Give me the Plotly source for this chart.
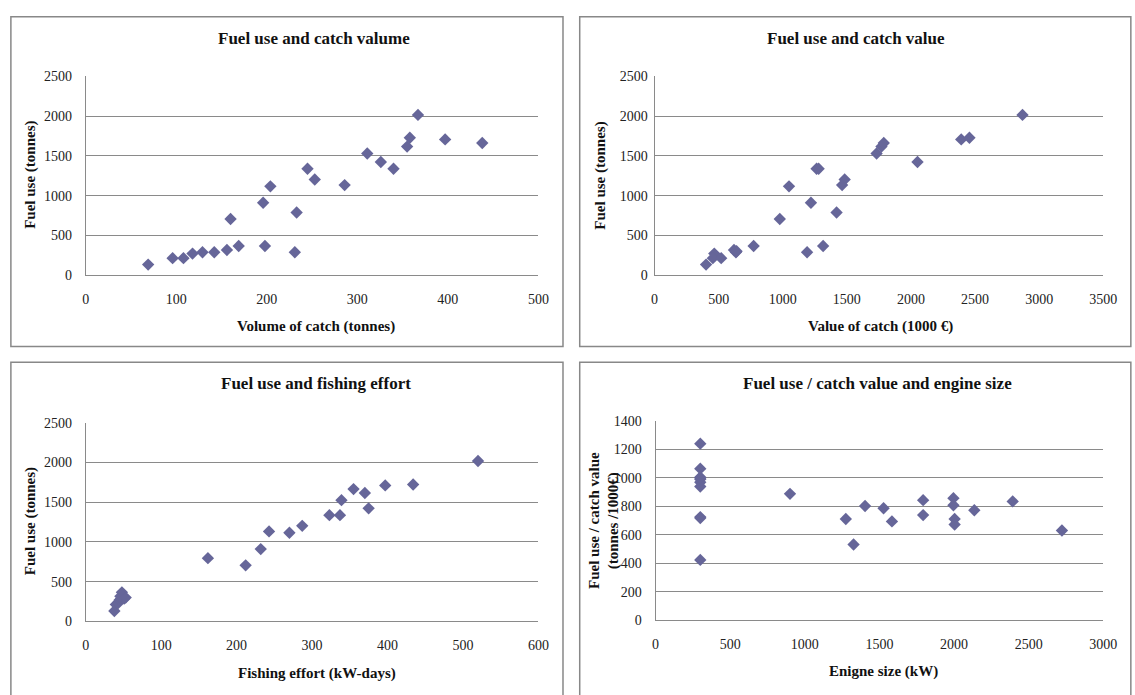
import plotly.graph_objects as go

# ---------------- data ----------------
vol_catch = [69, 96, 108, 118, 129, 142, 156, 169, 160, 196, 198, 204, 233, 231, 245, 253, 286, 311, 326, 340, 355, 358, 367, 397, 438]
vol_fuel = [132, 213, 213, 271, 287, 287, 316, 366, 706, 911, 366, 1117, 788, 287, 1338, 1203, 1133, 1531, 1424, 1338, 1617, 1728, 2016, 1708, 1662]

val_catch = [402, 466, 455, 520, 620, 635, 640, 773, 977, 1049, 1190, 1220, 1264, 1280, 1315, 1420, 1463, 1483, 1732, 1770, 1788, 2051, 2392, 2456, 2870]
val_fuel = [132, 271, 213, 213, 316, 287, 300, 366, 706, 1117, 287, 911, 1338, 1338, 366, 788, 1133, 1203, 1531, 1617, 1662, 1424, 1708, 1728, 2016]

effort = [38, 40, 43, 45, 47, 49, 51, 46, 48, 53, 162, 212, 232, 243, 270, 287, 323, 337, 339, 355, 370, 375, 397, 434, 520]
effort_fuel = [132, 213, 230, 271, 287, 300, 287, 316, 366, 300, 797, 706, 911, 1133, 1117, 1203, 1338, 1338, 1527, 1666, 1617, 1424, 1712, 1724, 2020]

engine = [300, 300, 300, 300, 300, 300, 300, 300, 300, 300, 901, 1275, 1327, 1404, 1528, 1584, 1793, 1793, 1996, 1996, 2004, 2004, 2136, 2393, 2723]
fuel_per_value = [1240, 1065, 1005, 990, 970, 940, 725, 718, 425, 1000, 888, 712, 533, 803, 787, 695, 844, 739, 858, 808, 712, 673, 773, 835, 631]

titles = ["Fuel use and catch valume", "Fuel use and catch value",
          "Fuel use and fishing effort", "Fuel use / catch value and engine size"]
x_titles = ["Volume of catch (tonnes)", "Value of catch (1000 €)",
            "Fishing effort (kW-days)", "Enigne size (kW)"]
y_titles = ["Fuel use (tonnes)", "Fuel use (tonnes)", "Fuel use (tonnes)",
            "Fuel use / catch value<br>(tonnes /1000€)"]

# ---------------- layout helpers ----------------
W, H = 1135, 695
def px(x):
    return x / W
def py(y):
    return 1 - y / H

MARK = "#666699"
GRID = "#8a8a8a"
FONT = "Liberation Serif"

fig = go.Figure()

panels = [
    dict(xs=vol_catch, ys=vol_fuel, xd=(83, 543), yd=(71, 274), xr=(0, 500), xdt=100, yr=(0, 2500), ydt=500),
    dict(xs=val_catch, ys=val_fuel, xd=(661, 1117), yd=(71, 274), xr=(0, 3500), xdt=500, yr=(0, 2500), ydt=500),
    dict(xs=effort, ys=effort_fuel, xd=(83, 543), yd=(425, 628), xr=(0, 600), xdt=100, yr=(0, 2500), ydt=500),
    dict(xs=engine, ys=fuel_per_value, xd=(662, 1117), yd=(423, 627), xr=(0, 3000), xdt=500, yr=(0, 1400), ydt=200),
]

for i, p in enumerate(panels):
    n = "" if i == 0 else str(i + 1)
    fig.add_trace(go.Scatter(x=p["xs"], y=p["ys"], mode="markers",
                             marker=dict(symbol="diamond", size=9.5, color=MARK, line=dict(width=0)),
                             xaxis="x" + n, yaxis="y" + n, showlegend=False, hoverinfo="x+y"))
    fig.update_layout(**{
        "xaxis" + n: dict(domain=[px(p["xd"][0]), px(p["xd"][1])], range=list(p["xr"]), dtick=p["xdt"],
                          anchor="y" + n, showgrid=False, zeroline=False, showline=True, linecolor=GRID,
                          linewidth=1, ticks="", ticklabelstandoff=11,
                          tickfont=dict(family=FONT, size=14, color="#222")),
        "yaxis" + n: dict(domain=[py(p["yd"][1]), py(p["yd"][0])], range=list(p["yr"]), dtick=p["ydt"],
                          anchor="x" + n, showgrid=True, gridcolor=GRID, gridwidth=1, zeroline=False,
                          showline=True, linecolor=GRID, linewidth=1, ticks="",
                          ticklabelstandoff=(3 if i == 1 else 10),
                          tickfont=dict(family=FONT, size=14, color="#222")),
    })

# panel borders
shapes = []
for (x0, y0, x1, y1) in [(7, 10, 568, 347), (585, 10, 1145, 347), (7, 363, 568, 705), (585, 363, 1145, 705)]:
    shapes.append(dict(type="rect", xref="paper", yref="paper", x0=px(x0), x1=px(x1), y0=py(y1), y1=py(y0),
                       line=dict(color="#888888", width=1.5), fillcolor="rgba(0,0,0,0)"))
fig.update_layout(shapes=shapes)

ann = []
title_pos = [(315, 32), (866, 32), (317, 385), (888, 385)]
xt_pos = [(317, 327), (891, 327), (318, 681), (894, 679)]
yt_pos = [(27, 172), (606, 172), (27, 526), (610, 525)]
for i in range(4):
    ann.append(dict(text="<b>" + titles[i] + "</b>", x=px(title_pos[i][0]), y=py(title_pos[i][1]),
                    xref="paper", yref="paper", showarrow=False, xanchor="center", yanchor="middle",
                    font=dict(family=FONT, size=17, color="#111")))
    ann.append(dict(text="<b>" + x_titles[i] + "</b>", x=px(xt_pos[i][0]), y=py(xt_pos[i][1]), xref="paper",
                    yref="paper", showarrow=False, xanchor="center", yanchor="middle",
                    font=dict(family=FONT, size=15, color="#111")))
    ann.append(dict(text="<b>" + y_titles[i] + "</b>", x=px(yt_pos[i][0]), y=py(yt_pos[i][1]), xref="paper",
                    yref="paper", showarrow=False, xanchor="center", yanchor="middle", textangle=-90,
                    font=dict(family=FONT, size=15, color="#111")))
fig.update_layout(annotations=ann)

fig.update_layout(width=W, height=H, margin=dict(l=0, r=0, t=0, b=0),
                  paper_bgcolor="white", plot_bgcolor="white")

fig.write_html("out.html")
